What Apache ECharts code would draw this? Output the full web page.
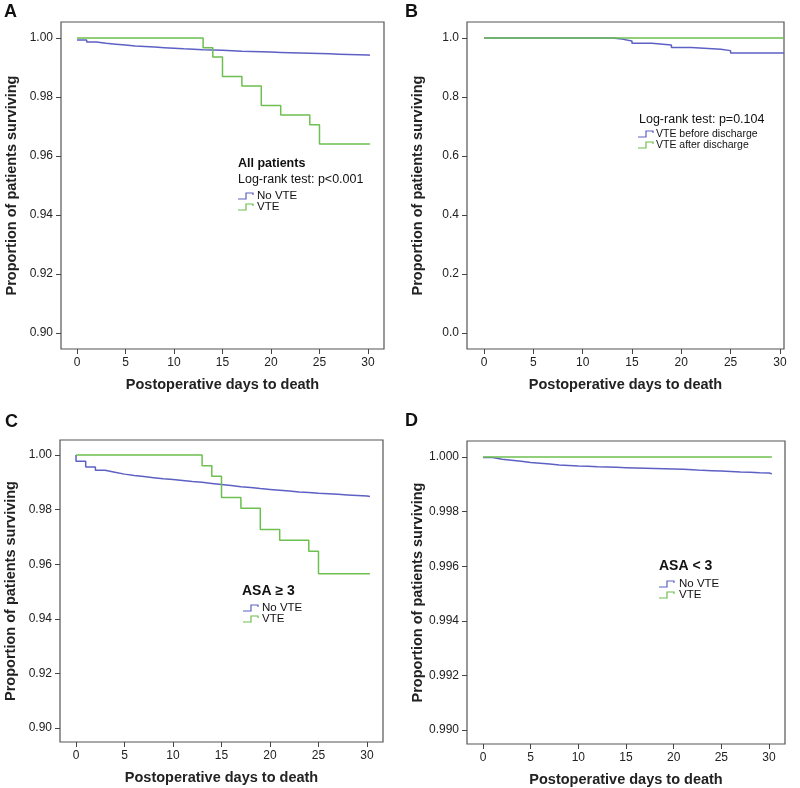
<!DOCTYPE html>
<html><head><meta charset="utf-8">
<script src="https://cdn.jsdelivr.net/npm/echarts@6/dist/echarts.min.js"></script>
<style>html,body{margin:0;padding:0;background:#fff}#c{width:800px;height:788px}</style>
</head><body><div id="c"></div>
<script>
// ---- data ----
const xTicks = [0, 5, 10, 15, 20, 25, 30];
const yTicksAC = [0.90, 0.92, 0.94, 0.96, 0.98, 1.00];
const yTicksB = [0.0, 0.2, 0.4, 0.6, 0.8, 1.0];
const yTicksD = [0.990, 0.992, 0.994, 0.996, 0.998, 1.000];

// Panel A: All patients
const aNoVteDays = [0,1,2,3,4,5,6,7,8,9,10,11,12,13,14,15,16,17,18,19,20,21,22,23,24,25,26,27,28,29,30,30.2];
const aNoVteSurv = [0.9993,0.9986,0.9982,0.9979,0.9976,0.9973,0.9971,0.9969,0.9967,0.9965,0.9963,0.9962,0.9960,0.9959,0.9958,0.9957,0.9955,0.9954,0.9953,0.9952,0.9951,0.9950,0.9949,0.9948,0.9947,0.9946,0.9945,0.9944,0.9943,0.9942,0.9941,0.9941];
const aVteDays = [0,13,14,15,17,19,21,24,25,30.2];
const aVteSurv = [1,0.9967,0.9935,0.9869,0.9837,0.9771,0.9739,0.9706,0.9641,0.9641];

// Panel B: VTE timing
const bBeforeDays = [0,13,14,15,17,19,21,24,25,30.4];
const bBeforeSurv = [1,0.996,0.990,0.982,0.976,0.968,0.962,0.957,0.949,0.949];
const bAfterDays = [0,30.4];
const bAfterSurv = [1,1];

// Panel C: ASA >= 3
const cNoVteDays = [0,0,1,2,3,4,5,6,7,8,9,10,11,12,13,14,15,16,17,18,19,20,21,22,23,24,25,26,27,28,29,30,30.3];
const cNoVteSurv = [1,0.9977,0.9956,0.9944,0.9937,0.9930,0.9925,0.9921,0.9917,0.9913,0.9910,0.9907,0.9903,0.9900,0.9896,0.9892,0.9888,0.9884,0.9881,0.9877,0.9874,0.9871,0.9868,0.9865,0.9863,0.9860,0.9858,0.9856,0.9854,0.9852,0.9850,0.9848,0.9848];
const cVteDays = [0,13,14,15,17,19,21,24,25,30.3];
const cVteSurv = [1,0.9961,0.9922,0.9844,0.9805,0.9727,0.9688,0.9648,0.9565,0.9565];

// Panel D: ASA < 3
const dNoVteDays = [0,1,2,3,4,5,6,7,8,9,10,11,12,13,14,15,16,17,18,19,20,21,22,23,24,25,26,27,28,29,30,30.3];
const dNoVteSurv = [0.99998,0.99992,0.99988,0.99984,0.99980,0.99977,0.99974,0.99971,0.99969,0.99967,0.99966,0.99964,0.99963,0.99962,0.99961,0.99960,0.99959,0.99958,0.99957,0.99956,0.99955,0.99953,0.99951,0.99950,0.99949,0.99947,0.99945,0.99944,0.99942,0.99941,0.99939,0.99939];
const dVteDays = [0,30.3];
const dVteSurv = [1,1];

// ---- styling ----
const BLUE = '#5d60c4';
const GREEN = '#6dbf4f';
const FONT = 'Liberation Sans, Arial, sans-serif';
const zip = (a, b) => a.map((v, i) => [v, b[i]]);

const grids = [
  {left: 61, top: 22, width: 323, height: 327},
  {left: 467, top: 22, width: 317, height: 327},
  {left: 60, top: 440, width: 323, height: 302},
  {left: 467, top: 441, width: 318, height: 303}
].map(g => Object.assign({show: true, borderColor: '#555', borderWidth: 1.2, backgroundColor: '#fff'}, g));

const xRanges = [[-1.65, 31.65], [-1.72, 30.41], [-1.65, 31.65], [-1.68, 31.68]];
const yRanges = [[0.8946, 1.0054], [-0.054, 1.054], [0.8949, 1.0055], [0.989487, 1.000586]];
const yTickSets = [yTicksAC, yTicksB, yTicksAC, yTicksD];
const yDigits = [2, 1, 2, 3];

const xAxes = xRanges.map((r, i) => ({
  type: 'value', gridIndex: i, min: r[0], max: r[1], position: 'bottom',
  name: 'Postoperative days to death', nameLocation: 'middle', nameGap: 28,
  nameTextStyle: {fontFamily: FONT, fontWeight: 'bold', fontSize: 14.5, color: '#222'},
  axisLine: {show: false, onZero: false}, splitLine: {show: false},
  axisTick: {show: true, length: 5, lineStyle: {color: '#444'}, customValues: xTicks},
  axisLabel: {customValues: xTicks, fontFamily: FONT, fontSize: 12, color: '#222', margin: 8}
}));
const yAxes = yRanges.map((r, i) => ({
  type: 'value', gridIndex: i, min: r[0], max: r[1], position: 'left',
  name: 'Proportion of patients surviving', nameLocation: 'middle', nameGap: 42,
  nameTextStyle: {fontFamily: FONT, fontWeight: 'bold', fontSize: 14.5, color: '#222'},
  axisLine: {show: false, onZero: false}, splitLine: {show: false},
  axisTick: {show: true, length: 5, lineStyle: {color: '#444'}, customValues: yTickSets[i]},
  axisLabel: {customValues: yTickSets[i], fontFamily: FONT, fontSize: 12, color: '#222', margin: 8,
    formatter: v => Number(v).toFixed(yDigits[i])}
}));

function km(idx, days, surv, color, name) {
  return {type: 'line', name, xAxisIndex: idx, yAxisIndex: idx, step: 'end',
    data: zip(days, surv), showSymbol: false, symbol: 'none', animation: false,
    lineStyle: {color, width: 1.5}, z: 3};
}

const series = [
  km(0, aNoVteDays, aNoVteSurv, BLUE, 'No VTE'),
  km(0, aVteDays, aVteSurv, GREEN, 'VTE'),
  km(1, bBeforeDays, bBeforeSurv, BLUE, 'VTE before discharge'),
  km(1, bAfterDays, bAfterSurv, GREEN, 'VTE after discharge'),
  km(2, cNoVteDays, cNoVteSurv, BLUE, 'No VTE'),
  km(2, cVteDays, cVteSurv, GREEN, 'VTE'),
  km(3, dNoVteDays, dNoVteSurv, BLUE, 'No VTE'),
  km(3, dVteDays, dVteSurv, GREEN, 'VTE')
];

// legend-like annotations
function stepIcon(x, y, color) {
  return {type: 'polyline', shape: {points: [[x, y + 3], [x + 8, y + 3], [x + 8, y - 3], [x + 15, y - 3], [x + 15, y - 1]]},
    style: {stroke: color, lineWidth: 1.2, fill: null}, z: 10};
}
function txt(x, y, text, size, bold) {
  return {type: 'text', x, y, style: {text, fontFamily: FONT, fontSize: size, fontWeight: bold ? 'bold' : 'normal',
    fill: '#111', textVerticalAlign: 'middle'}, z: 10};
}
const graphic = [
  txt(4, 12, 'A', 18, true), txt(405, 12, 'B', 18, true),
  txt(5, 422, 'C', 18, true), txt(405, 421, 'D', 18, true),
  // A
  txt(238, 164, 'All patients', 12.5, true),
  txt(238, 180, 'Log-rank test: p<0.001', 12.5, false),
  stepIcon(238, 196, BLUE), txt(257, 196, 'No VTE', 11.5, false),
  stepIcon(238, 207, GREEN), txt(257, 207, 'VTE', 11.5, false),
  // B
  txt(639, 120, 'Log-rank test: p=0.104', 12.5, false),
  stepIcon(638, 134, BLUE), txt(656, 134, 'VTE before discharge', 10.5, false),
  stepIcon(638, 145, GREEN), txt(656, 145, 'VTE after discharge', 10.5, false),
  // C
  txt(242, 591, 'ASA \u2265 3', 14, true),
  stepIcon(243, 608, BLUE), txt(262, 608, 'No VTE', 11.5, false),
  stepIcon(243, 619, GREEN), txt(262, 619, 'VTE', 11.5, false),
  // D
  txt(659, 566, 'ASA < 3', 14, true),
  stepIcon(659, 584, BLUE), txt(679, 584, 'No VTE', 11.5, false),
  stepIcon(659, 595, GREEN), txt(679, 595, 'VTE', 11.5, false)
];

const chart = echarts.init(document.getElementById('c'), null, {renderer: 'canvas'});
chart.setOption({
  animation: false, backgroundColor: '#fff',
  grid: grids, xAxis: xAxes, yAxis: yAxes, series, graphic
});
</script></body></html>
